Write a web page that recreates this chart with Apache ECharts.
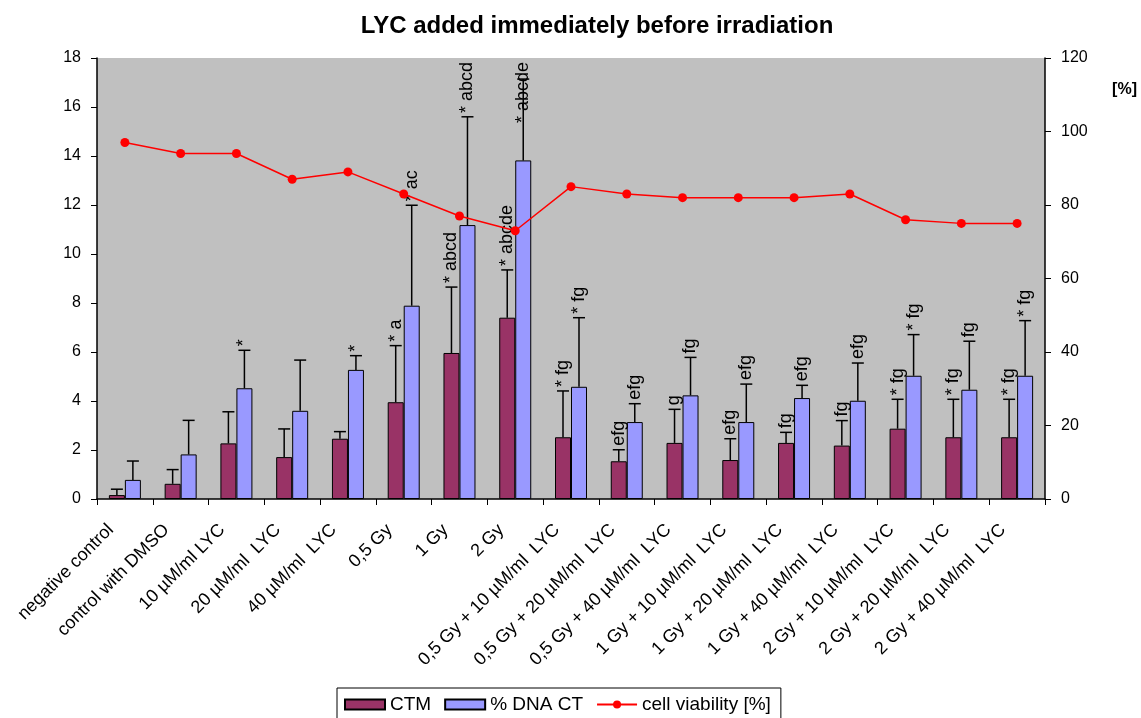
<!DOCTYPE html>
<html>
<head>
<meta charset="utf-8">
<script src="https://cdn.jsdelivr.net/npm/echarts@6/dist/echarts.min.js"></script>
<style>
  html, body { margin: 0; padding: 0; background: #fff; }
  #chart { width: 1141px; height: 718px; }
</style>
</head>
<body>
<div id="chart"></div>
<script>
var categories = [
    'negative control', 'control with DMSO', '10 µM/ml LYC', '20 µM/ml  LYC', '40 µM/ml  LYC',
    '0,5 Gy', '1 Gy', '2 Gy',
    '0,5 Gy + 10 µM/ml  LYC', '0,5 Gy + 20 µM/ml  LYC', '0,5 Gy + 40 µM/ml  LYC',
    '1 Gy + 10 µM/ml  LYC', '1 Gy + 20 µM/ml  LYC', '1 Gy + 40 µM/ml  LYC',
    '2 Gy + 10 µM/ml  LYC', '2 Gy + 20 µM/ml  LYC', '2 Gy + 40 µM/ml  LYC'
];
var ctm = [0.16, 0.62, 2.27, 1.71, 2.46, 3.95, 5.96, 7.40, 2.52, 1.54, 2.29, 1.59, 2.29, 2.18, 2.87, 2.52, 2.52];
var ctmSd = [0.24, 0.58, 1.29, 1.15, 0.29, 2.31, 2.69, 1.95, 1.89, 0.47, 1.37, 0.87, 0.43, 1.02, 1.20, 1.55, 1.55];
var dnaCt = [0.78, 1.82, 4.52, 3.60, 5.27, 7.89, 11.18, 13.82, 4.58, 3.14, 4.23, 3.14, 4.12, 4.01, 5.03, 4.46, 5.03];
var dnaCtSd = [0.77, 1.39, 1.55, 2.07, 0.58, 4.10, 4.42, 3.32, 2.82, 0.75, 1.55, 1.55, 0.52, 1.54, 1.68, 1.98, 2.25];
var viability = [97, 94, 94, 87, 89, 83, 77, 73, 85, 83, 82, 82, 82, 83, 76, 75, 75];
var ctmMarks = ['', '', '', '', '', '* a', '* abcd', '* abcde', '* fg', 'efg', 'g', 'efg', 'fg', 'fg', '* fg', '* fg', '* fg'];
var dnaCtMarks = ['', '', '*', '', '*', '* ac', '* abcd', '* abcde', '* fg', 'efg', 'fg', 'efg', 'efg', 'efg', '* fg', 'fg', '* fg'];

var FONT = 'Liberation Sans, Arial, sans-serif';
var MARK_FONT = '18px ' + FONT;
var BAR_W = 16;
var GRID_TOP = 58;

var measureCtx = document.createElement('canvas').getContext('2d');
measureCtx.font = MARK_FONT;

// error bar + significance letters, drawn on top of one bar series
function errorSeries(means, sds, marks, offset) {
    return {
        type: 'custom',
        yAxisIndex: 0,
        z: 5,
        clip: false,
        silent: true,
        data: means.map(function (m, i) { return [i, m, m + sds[i]]; }),
        encode: { x: 0, y: 2 },
        renderItem: function (params, api) {
            var i = api.value(0);
            var base = api.coord([i, api.value(1)]);
            var top = api.coord([i, api.value(2)]);
            var x = base[0] + offset;
            var kids = [
                { type: 'line', shape: { x1: x, y1: base[1], x2: x, y2: top[1] },
                  style: { stroke: '#000', lineWidth: 1.5 } },
                { type: 'line', shape: { x1: x - 6, y1: top[1], x2: x + 6, y2: top[1] },
                  style: { stroke: '#000', lineWidth: 1.5 } }
            ];
            var txt = marks[params.dataIndex];
            if (txt) {
                // keep the rotated label inside the plot area
                var len = measureCtx.measureText(txt).width;
                var start = Math.max(top[1] - 4, GRID_TOP + 4 + len);
                kids.push({
                    type: 'text', x: x, y: start, rotation: Math.PI / 2,
                    style: { text: txt, align: 'left', verticalAlign: 'middle',
                             fill: '#000', font: MARK_FONT }
                });
            }
            return { type: 'group', children: kids };
        }
    };
}

var chart = echarts.init(document.getElementById('chart'));
chart.setOption({
    animation: false,
    backgroundColor: '#fff',
    textStyle: { fontFamily: FONT },
    title: {
        text: 'LYC added immediately before irradiation',
        left: 592,
        textAlign: 'center',
        top: 9,
        textStyle: { fontSize: 24, fontWeight: 'bold', color: '#000', fontFamily: FONT }
    },
    grid: { left: 97, right: 96, top: GRID_TOP, bottom: 219, show: true, backgroundColor: '#C0C0C0', borderWidth: 0 },
    legend: {
        left: 337,
        top: 688,
        padding: [7, 10, 10, 7],
        borderColor: '#000',
        borderWidth: 1,
        itemGap: 13,
        itemWidth: 40,
        itemHeight: 10,
        textStyle: { fontSize: 19, color: '#000', fontFamily: FONT },
        data: [
            { name: 'CTM', icon: 'rect' },
            { name: '% DNA CT', icon: 'rect' },
            { name: 'cell viability [%]' }
        ]
    },
    graphic: [{
        type: 'text', right: 4, top: 82,
        style: { text: '[%]', font: 'bold 16px ' + FONT, fill: '#000' }
    }],
    xAxis: {
        type: 'category',
        data: categories,
        boundaryGap: true,
        axisLine: { lineStyle: { color: '#000', width: 1.5 } },
        axisTick: { show: true, interval: 0, length: 6, lineStyle: { color: '#000' } },
        axisLabel: {
            interval: 0, rotate: 45, fontSize: 18, color: '#000',
            margin: 14, padding: [0, 20, 0, 0], fontFamily: FONT
        }
    },
    yAxis: [{
        type: 'value', min: 0, max: 18, interval: 2,
        axisLine: { show: true, lineStyle: { color: '#000', width: 1.5 } },
        axisTick: { show: true, length: 6, lineStyle: { color: '#000' } },
        axisLabel: { fontSize: 16, color: '#000', margin: 16, fontFamily: FONT },
        splitLine: { show: false }
    }, {
        type: 'value', min: 0, max: 120, interval: 20,
        axisLine: { show: true, lineStyle: { color: '#000', width: 1.5 } },
        axisTick: { show: true, length: 6, lineStyle: { color: '#000' } },
        axisLabel: { fontSize: 16, color: '#000', margin: 16, fontFamily: FONT },
        splitLine: { show: false }
    }],
    series: [{
        name: 'CTM',
        type: 'bar',
        data: ctm,
        barWidth: BAR_W,
        barGap: '0%',
        itemStyle: { color: '#993366', borderColor: '#000', borderWidth: 1 }
    }, {
        name: '% DNA CT',
        type: 'bar',
        data: dnaCt,
        barWidth: BAR_W,
        barGap: '0%',
        itemStyle: { color: '#9999FF', borderColor: '#000', borderWidth: 1 }
    },
    errorSeries(ctm, ctmSd, ctmMarks, -BAR_W / 2),
    errorSeries(dnaCt, dnaCtSd, dnaCtMarks, BAR_W / 2),
    {
        name: 'cell viability [%]',
        type: 'line',
        yAxisIndex: 1,
        data: viability,
        z: 6,
        symbol: 'circle',
        symbolSize: 9,
        color: '#FF0000',
        lineStyle: { color: '#FF0000', width: 1.5 },
        itemStyle: { color: '#FF0000' }
    }]
});
</script>
</body>
</html>
